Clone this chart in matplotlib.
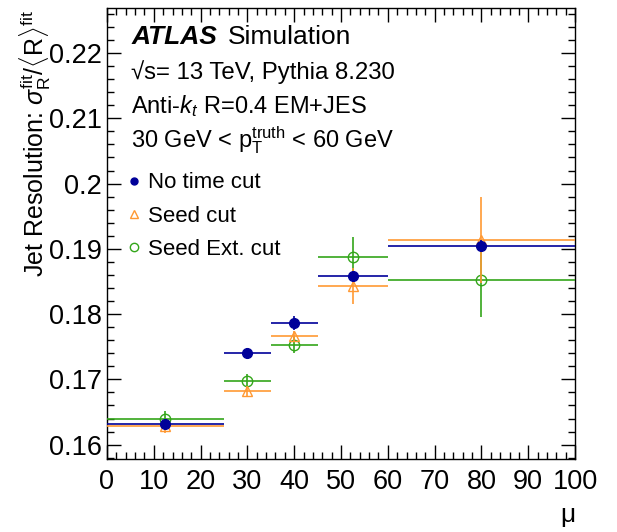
import matplotlib
matplotlib.use("Agg")
from matplotlib import pyplot as plt
from matplotlib.lines import Line2D
from matplotlib.ticker import MultipleLocator

plt.rcParams['font.family'] = ['Liberation Sans', 'DejaVu Sans']
plt.rcParams['mathtext.fontset'] = 'custom'
plt.rcParams['mathtext.rm'] = 'Liberation Sans'
plt.rcParams['mathtext.it'] = 'Liberation Sans:italic'

# mu bins
mu_center = [12.5, 30, 40, 52.5, 80]
mu_lo = [12.5, 5, 5, 7.5, 20]
mu_hi = [12.5, 5, 5, 7.5, 20]

# resolution per selection
no_cut = [0.1632, 0.1740, 0.1786, 0.1859, 0.1905]
no_cut_err = [0.0005, 0.0008, 0.0011, 0.0006, 0.0008]
seed_cut = [0.1628, 0.1682, 0.1766, 0.1843, 0.1913]
seed_cut_err = [0.0010, 0.0008, 0.0008, 0.0028, 0.0066]
seed_ext = [0.1640, 0.1698, 0.1753, 0.1888, 0.1853]
seed_ext_err = [0.0011, 0.0011, 0.0013, 0.0030, 0.0058]

blue = '#000099'
orange = '#FF9933'
green = '#33A61A'

fig = plt.figure(figsize=(6.17, 5.32), dpi=100)
ax = fig.add_axes([0.1734, 0.1372, 0.7586, 0.8478])

xerr = [mu_lo, mu_hi]
ax.errorbar(mu_center, seed_ext, xerr=xerr, yerr=seed_ext_err, fmt='o',
            mfc='none', mec=green, ecolor=green, ms=7.5, mew=1.0, elinewidth=1.2,
            capsize=0, zorder=3)
ax.errorbar(mu_center, seed_cut, xerr=xerr, yerr=seed_cut_err, fmt='^',
            mfc='none', mec=orange, ecolor=orange, ms=7.5, mew=1.0, elinewidth=1.2,
            capsize=0, zorder=4)
ax.errorbar(mu_center, no_cut, xerr=xerr, yerr=no_cut_err, fmt='o',
            color=blue, ms=7, elinewidth=1.2, capsize=0, zorder=5)

ax.set_xlim(0, 100)
ax.set_ylim(0.1578, 0.2269)
ax.xaxis.set_major_locator(MultipleLocator(10))
ax.xaxis.set_minor_locator(MultipleLocator(2))
ax.yaxis.set_major_locator(MultipleLocator(0.01))
ax.yaxis.set_minor_locator(MultipleLocator(0.002))
ax.tick_params(which='both', direction='in', top=True, right=True,
               labelsize=19.5, width=1.0)
ax.tick_params(which='major', length=10)
ax.tick_params(which='minor', length=5)
ax.tick_params(axis='x', pad=7)
ax.yaxis.set_major_formatter(plt.FuncFormatter(lambda v, p: f"{v:g}"))
for s in ax.spines.values():
    s.set_linewidth(1.0)

fig.text(568 / 617, 1 - 515 / 532, 'μ', fontsize=19, ha='center', va='center')
ax.set_ylabel(r'Jet Resolution: $\sigma_{\mathrm{R}}^{\mathrm{fit}}/\langle\mathrm{R}\rangle^{\mathrm{fit}}$',
              fontsize=18, loc='top')
ax.yaxis.set_label_coords(-0.115, 0.995)

tx = 0.052
ax.text(tx, 0.935, 'ATLAS', transform=ax.transAxes, fontsize=19,
        fontweight='bold', style='italic', va='center')
ax.text(0.2585, 0.935, 'Simulation', transform=ax.transAxes, fontsize=19,
        va='center')
ax.text(tx, 0.858, '√s= 13 TeV, Pythia 8.230', transform=ax.transAxes,
        fontsize=17.3, va='center')
ax.text(tx, 0.782, r'Anti-$k_t$ R=0.4 EM+JES', transform=ax.transAxes,
        fontsize=17, va='center')
ax.text(tx, 0.707, r'30 GeV < $\mathrm{p}_{\mathrm{T}}^{\mathrm{truth}}$ < 60 GeV',
        transform=ax.transAxes, fontsize=17, va='center')

handles = [
    Line2D([], [], ls='none', marker='o', color=blue, ms=5),
    Line2D([], [], ls='none', marker='^', mfc='none', mec=orange, ms=6),
    Line2D([], [], ls='none', marker='o', mfc='none', mec=green, ms=6),
]
labels = ['No time cut', 'Seed cut', 'Seed Ext. cut']
ax.legend(handles, labels, loc='upper left', bbox_to_anchor=(0.0, 0.67),
          frameon=False, fontsize=16, handlelength=1.0, handletextpad=0.15,
          labelspacing=0.55, borderaxespad=0.3)

fig.savefig('out.png', dpi=100)
